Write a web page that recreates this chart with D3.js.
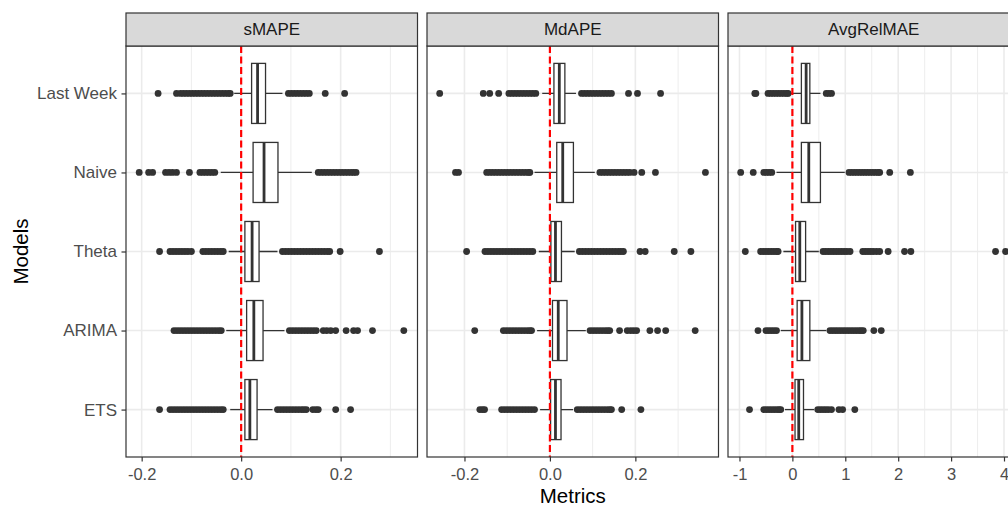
<!DOCTYPE html>
<html>
<head>
<meta charset="utf-8">
<script src="https://cdn.jsdelivr.net/npm/d3@7"></script>
<style>
  body { margin: 0; background: #fff; }
  text { font-family: "Liberation Sans", Arial, sans-serif; }
</style>
</head>
<body>
<div id="chart"></div>
<script>
// Categories (top to bottom) and facets
const models = ['Last Week', 'Naive', 'Theta', 'ARIMA', 'ETS'];
const metrics = ['sMAPE', 'MdAPE', 'AvgRelMAE'];

// Box stats per model: [lower whisker, Q1, median, Q3, upper whisker]
const smapeBoxes = [
    [-0.014, 0.021, 0.033, 0.049, 0.083],
    [-0.041, 0.024, 0.046, 0.074, 0.142],
    [-0.025, 0.0075, 0.022, 0.036, 0.073],
    [-0.030, 0.011, 0.0255, 0.044, 0.087],
    [-0.022, 0.0075, 0.0175, 0.032, 0.063]
];
const smapeOutliers = [
    [-0.167, -0.130, -0.122, -0.116, -0.110, -0.104, -0.098, -0.092, -0.086, -0.080, -0.074, -0.068, -0.062, -0.056, -0.050, -0.044, -0.038, -0.032, -0.026, -0.022,
     0.095, 0.101, 0.107, 0.113, 0.119, 0.125, 0.131, 0.137, 0.169, 0.208],
    [-0.205, -0.186, -0.178, -0.152, -0.145, -0.138, -0.130, -0.104, -0.083, -0.077, -0.071, -0.065, -0.059, -0.053,
     0.155, 0.161, 0.167, 0.173, 0.179, 0.185, 0.191, 0.197, 0.203, 0.209, 0.215, 0.221, 0.226, 0.231],
    [-0.164, -0.143, -0.137, -0.131, -0.125, -0.119, -0.113, -0.107, -0.100, -0.077, -0.071, -0.065, -0.059, -0.053, -0.047, -0.041, -0.036,
     0.083, 0.089, 0.095, 0.101, 0.107, 0.113, 0.119, 0.125, 0.131, 0.137, 0.143, 0.149, 0.155, 0.161, 0.167, 0.173, 0.178, 0.199, 0.278],
    [-0.135, -0.129, -0.123, -0.117, -0.111, -0.105, -0.099, -0.093, -0.087, -0.081, -0.075, -0.069, -0.063, -0.057, -0.051, -0.045, -0.040,
     0.097, 0.103, 0.109, 0.115, 0.121, 0.127, 0.133, 0.139, 0.145, 0.151, 0.165, 0.172, 0.180, 0.190, 0.211, 0.226, 0.234, 0.264, 0.327],
    [-0.164, -0.143, -0.137, -0.131, -0.125, -0.119, -0.113, -0.107, -0.101, -0.095, -0.089, -0.083, -0.077, -0.071, -0.065, -0.059, -0.053, -0.047, -0.041, -0.036,
     0.073, 0.079, 0.085, 0.091, 0.097, 0.103, 0.109, 0.115, 0.121, 0.126, 0.131, 0.144, 0.150, 0.155, 0.190, 0.220]
];

const mdapeBoxes = [
    [-0.018, 0.0094, 0.022, 0.035, 0.061],
    [-0.036, 0.016, 0.030, 0.055, 0.105],
    [-0.026, 0.0023, 0.013, 0.027, 0.058],
    [-0.030, 0.006, 0.0195, 0.040, 0.084],
    [-0.023, 0.0016, 0.013, 0.026, 0.054]
];
const mdapeOutliers = [
    [-0.258, -0.156, -0.141, -0.120, -0.096, -0.089, -0.082, -0.075, -0.068, -0.061, -0.054, -0.047, -0.040, -0.033,
     0.074, 0.081, 0.088, 0.095, 0.102, 0.109, 0.116, 0.123, 0.130, 0.137, 0.144, 0.184, 0.205, 0.259],
    [-0.221, -0.214, -0.148, -0.141, -0.134, -0.127, -0.120, -0.113, -0.106, -0.099, -0.092, -0.085, -0.078, -0.071, -0.064, -0.057, -0.050, -0.047,
     0.117, 0.124, 0.131, 0.138, 0.145, 0.152, 0.159, 0.166, 0.173, 0.180, 0.187, 0.197, 0.215, 0.247, 0.364],
    [-0.195, -0.152, -0.145, -0.138, -0.131, -0.124, -0.117, -0.110, -0.103, -0.096, -0.089, -0.082, -0.075, -0.068, -0.061, -0.054, -0.047, -0.040,
     0.069, 0.076, 0.083, 0.090, 0.097, 0.104, 0.111, 0.118, 0.125, 0.132, 0.139, 0.146, 0.153, 0.160, 0.166, 0.172, 0.211, 0.223, 0.291, 0.330],
    [-0.176, -0.109, -0.102, -0.095, -0.088, -0.081, -0.074, -0.067, -0.060, -0.053, -0.047, -0.043,
     0.094, 0.101, 0.108, 0.115, 0.122, 0.129, 0.135, 0.140, 0.163, 0.181, 0.189, 0.196, 0.203, 0.234, 0.252, 0.271, 0.340],
    [-0.164, -0.158, -0.153, -0.113, -0.106, -0.099, -0.092, -0.085, -0.078, -0.071, -0.064, -0.057, -0.050, -0.043, -0.036,
     0.064, 0.071, 0.078, 0.085, 0.092, 0.099, 0.106, 0.113, 0.120, 0.127, 0.134, 0.140, 0.144, 0.168, 0.213]
];

const relmaeBoxes = [
    [-0.05, 0.17, 0.26, 0.33, 0.53],
    [-0.30, 0.17, 0.31, 0.53, 0.99],
    [-0.17, 0.06, 0.14, 0.25, 0.50],
    [-0.22, 0.09, 0.18, 0.33, 0.64],
    [-0.14, 0.05, 0.12, 0.21, 0.41]
];
const relmaeOutliers = [
    [-0.71, -0.69, -0.46, -0.41, -0.36, -0.31, -0.26, -0.21, -0.16, -0.11, -0.08,
     0.64, 0.69, 0.74],
    [-0.977, -0.74, -0.54, -0.49, -0.44, -0.39,
     1.07, 1.12, 1.17, 1.22, 1.27, 1.32, 1.37, 1.42, 1.47, 1.52, 1.57, 1.62, 1.65, 1.84, 2.23],
    [-0.89, -0.60, -0.55, -0.50, -0.45, -0.40, -0.35, -0.30, -0.27,
     0.58, 0.63, 0.68, 0.73, 0.78, 0.83, 0.88, 0.93, 0.98, 1.03, 1.09, 1.33, 1.38, 1.43, 1.48, 1.53, 1.59, 1.65, 1.81, 2.12, 2.24, 3.84, 4.03],
    [-0.65, -0.50, -0.45, -0.40, -0.35, -0.30,
     0.71, 0.76, 0.81, 0.86, 0.91, 0.96, 1.01, 1.06, 1.11, 1.16, 1.21, 1.26, 1.30, 1.34, 1.54, 1.68],
    [-0.81, -0.54, -0.49, -0.44, -0.39, -0.34, -0.29, -0.25, -0.22,
     0.48, 0.53, 0.58, 0.63, 0.68, 0.74, 0.88, 0.95, 1.18]
];

// Axis limits and ticks per facet
const smapeDomain = [-0.2315, 0.3545];
const smapeTicks = [-0.2, 0, 0.2];
const smapeTickLabels = ['-0.2', '0.0', '0.2'];
const smapeMinor = [-0.1, 0.1, 0.3];

const mdapeDomain = [-0.2877, 0.3946];
const mdapeTicks = [-0.2, 0, 0.2];
const mdapeTickLabels = ['-0.2', '0.0', '0.2'];
const mdapeMinor = [-0.1, 0.1, 0.3];

const relmaeDomain = [-1.217, 4.293];
const relmaeTicks = [-1, 0, 1, 2, 3, 4];
const relmaeTickLabels = ['-1', '0', '1', '2', '3', '4'];
const relmaeMinor = [-0.5, 0.5, 1.5, 2.5, 3.5];

const panels = [
    {name: metrics[0], boxes: smapeBoxes, outliers: smapeOutliers, domain: smapeDomain, ticks: smapeTicks, labels: smapeTickLabels, minor: smapeMinor},
    {name: metrics[1], boxes: mdapeBoxes, outliers: mdapeOutliers, domain: mdapeDomain, ticks: mdapeTicks, labels: mdapeTickLabels, minor: mdapeMinor},
    {name: metrics[2], boxes: relmaeBoxes, outliers: relmaeOutliers, domain: relmaeDomain, ticks: relmaeTicks, labels: relmaeTickLabels, minor: relmaeMinor}
];

const width = 1008;
const height = 506;
const panelLeft = 126;
const panelWidth = 291.5;
const panelGap = 9.5;
const stripTop = 13;
const panelTop = 46;
const panelBottom = 457;
const dark = '#333333';

const svg = d3.select('#chart')
    .append('svg')
    .attr('width', width)
    .attr('height', height);

// Shared y scale (discrete models)
const y = d3.scalePoint()
    .domain(models)
    .range([panelTop, panelBottom])
    .padding(0.6);
const boxHalf = y.step() * 0.38;

panels.forEach((p, i) => {
    const left = panelLeft + i * (panelWidth + panelGap);
    const x = d3.scaleLinear().domain(p.domain).range([left, left + panelWidth]);

    const clipId = 'clip' + i;
    svg.append('clipPath').attr('id', clipId)
        .append('rect')
        .attr('x', left).attr('y', panelTop)
        .attr('width', panelWidth).attr('height', panelBottom - panelTop);

    const g = svg.append('g').attr('clip-path', `url(#${clipId})`);

    // grid
    g.selectAll('.minor').data(p.minor).enter().append('line')
        .attr('x1', d => x(d)).attr('x2', d => x(d))
        .attr('y1', panelTop).attr('y2', panelBottom)
        .attr('stroke', '#EBEBEB').attr('stroke-width', 0.9);
    g.selectAll('.major').data(p.ticks).enter().append('line')
        .attr('x1', d => x(d)).attr('x2', d => x(d))
        .attr('y1', panelTop).attr('y2', panelBottom)
        .attr('stroke', '#EBEBEB').attr('stroke-width', 1.6);
    g.selectAll('.hgrid').data(models).enter().append('line')
        .attr('x1', left).attr('x2', left + panelWidth)
        .attr('y1', d => y(d)).attr('y2', d => y(d))
        .attr('stroke', '#EBEBEB').attr('stroke-width', 1.6);

    // boxplots
    const rows = g.selectAll('.row').data(models).enter().append('g');
    rows.each(function(m, j) {
        const row = d3.select(this);
        const b = p.boxes[j];
        const cy = y(m);
        row.append('line')
            .attr('x1', x(b[0])).attr('x2', x(b[1]))
            .attr('y1', cy).attr('y2', cy)
            .attr('stroke', dark).attr('stroke-width', 1.3);
        row.append('line')
            .attr('x1', x(b[3])).attr('x2', x(b[4]))
            .attr('y1', cy).attr('y2', cy)
            .attr('stroke', dark).attr('stroke-width', 1.3);
        row.append('rect')
            .attr('x', x(b[1])).attr('y', cy - boxHalf)
            .attr('width', x(b[3]) - x(b[1])).attr('height', boxHalf * 2)
            .attr('fill', '#fff').attr('stroke', dark).attr('stroke-width', 1.3);
        row.append('line')
            .attr('x1', x(b[2])).attr('x2', x(b[2]))
            .attr('y1', cy - boxHalf).attr('y2', cy + boxHalf)
            .attr('stroke', dark).attr('stroke-width', 2.8);
        row.selectAll('circle').data(p.outliers[j]).enter().append('circle')
            .attr('cx', d => x(d)).attr('cy', cy)
            .attr('r', 3.4)
            .attr('fill', dark);
    });

    // red zero line
    g.append('line')
        .attr('x1', x(0)).attr('x2', x(0))
        .attr('y1', panelTop).attr('y2', panelBottom)
        .attr('stroke', 'red').attr('stroke-width', 2.2)
        .attr('stroke-dasharray', '7,3.5');

    // panel border
    svg.append('rect')
        .attr('x', left).attr('y', panelTop)
        .attr('width', panelWidth).attr('height', panelBottom - panelTop)
        .attr('fill', 'none').attr('stroke', dark).attr('stroke-width', 1.2);

    // strip
    svg.append('rect')
        .attr('x', left).attr('y', stripTop)
        .attr('width', panelWidth).attr('height', panelTop - stripTop)
        .attr('fill', '#D9D9D9').attr('stroke', dark).attr('stroke-width', 1.2);
    svg.append('text')
        .attr('x', left + panelWidth / 2)
        .attr('y', (stripTop + panelTop) / 2)
        .attr('dy', '0.35em')
        .attr('text-anchor', 'middle')
        .attr('fill', '#1A1A1A')
        .style('font-size', '17px')
        .text(p.name);

    // x axis
    const xAxis = d3.axisBottom(x)
        .tickValues(p.ticks)
        .tickFormat((d, k) => p.labels[k])
        .tickSizeOuter(0)
        .tickSize(4.5)
        .tickPadding(6.5);
    const ax = svg.append('g')
        .attr('transform', `translate(0, ${panelBottom})`)
        .call(xAxis);
    ax.select('.domain').remove();
    ax.selectAll('line').attr('stroke', dark).attr('stroke-width', 1.2);
    ax.selectAll('text')
        .attr('fill', '#4D4D4D')
        .style('font-size', '16.5px')
        .style('font-family', '"Liberation Sans", Arial, sans-serif');
});

// y axis on first panel
const yAxis = d3.axisLeft(y).tickSizeOuter(0).tickSize(4.5).tickPadding(4.5);
const ay = svg.append('g')
    .attr('transform', `translate(${panelLeft}, 0)`)
    .call(yAxis);
ay.select('.domain').remove();
ay.selectAll('line').attr('stroke', dark).attr('stroke-width', 1.2);
ay.selectAll('text')
    .attr('fill', '#4D4D4D')
    .style('font-size', '17px')
    .style('font-family', '"Liberation Sans", Arial, sans-serif');

// axis titles
svg.append('text')
    .attr('x', panelLeft + (3 * panelWidth + 2 * panelGap) / 2)
    .attr('y', 502.5)
    .attr('text-anchor', 'middle')
    .attr('fill', '#000')
    .style('font-size', '20.5px')
    .text('Metrics');

svg.append('text')
    .attr('transform', `translate(28, ${(panelTop + panelBottom) / 2}) rotate(-90)`)
    .attr('text-anchor', 'middle')
    .attr('fill', '#000')
    .style('font-size', '20.5px')
    .text('Models');
</script>
</body>
</html>
